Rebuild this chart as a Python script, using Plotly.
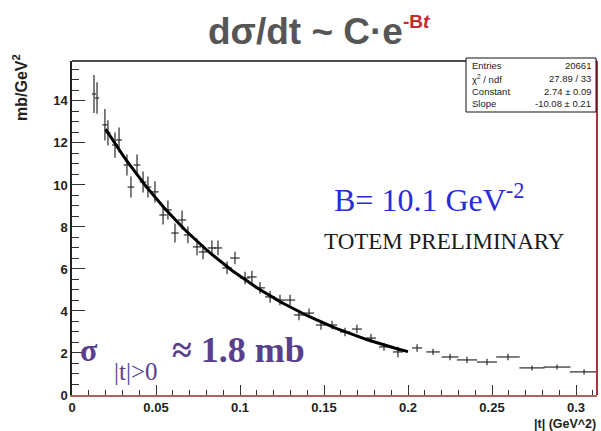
import numpy as np
import plotly.graph_objects as go

# ---- data ----
t_vals = [0.0131, 0.0149, 0.0196, 0.0214, 0.0256, 0.0280, 0.0327, 0.0351, 0.0387, 0.0423,
          0.0452, 0.0494, 0.0542, 0.0571, 0.0613, 0.0655, 0.0690, 0.0744, 0.0780, 0.0833,
          0.0869, 0.0923, 0.0970, 0.1030, 0.1071, 0.1119, 0.1179, 0.1238, 0.1298, 0.1351,
          0.1411, 0.1482, 0.1548, 0.1625, 0.1696, 0.1780, 0.1857, 0.1940, 0.2054, 0.2149,
          0.2250, 0.2351, 0.2470, 0.2595, 0.2738, 0.2887, 0.3048]
dsdt_vals = [14.33, 14.14, 12.86, 12.48, 11.90, 12.14, 10.95, 9.90, 10.95, 10.14,
             9.90, 9.67, 8.57, 8.81, 7.71, 8.33, 7.62, 7.05, 6.81, 7.00,
             7.00, 6.05, 6.52, 5.57, 5.62, 5.10, 4.67, 4.52, 4.52, 3.81,
             3.90, 3.33, 3.33, 3.00, 3.14, 2.71, 2.29, 2.05, 2.24, 2.05,
             1.81, 1.67, 1.57, 1.81, 1.29, 1.33, 1.10]
t_err = [0.0012, 0.0012, 0.0015, 0.0015, 0.0018, 0.0018, 0.002, 0.002, 0.002, 0.002,
         0.002, 0.0022, 0.0022, 0.0022, 0.0022, 0.0025, 0.0025, 0.0025, 0.0025, 0.0025,
         0.0025, 0.0028, 0.0028, 0.0028, 0.0028, 0.003, 0.003, 0.003, 0.003, 0.003,
         0.003, 0.003, 0.003, 0.003, 0.003, 0.003, 0.003, 0.003, 0.003, 0.004,
         0.005, 0.006, 0.006, 0.007, 0.0075, 0.008, 0.0085]
dsdt_err = [0.9, 0.75, 0.75, 0.6, 0.6, 0.6, 0.5, 0.5, 0.5, 0.5,
            0.5, 0.5, 0.45, 0.45, 0.45, 0.45, 0.4, 0.4, 0.35, 0.35,
            0.35, 0.3, 0.3, 0.3, 0.3, 0.28, 0.28, 0.25, 0.25, 0.25,
            0.22, 0.22, 0.2, 0.2, 0.2, 0.2, 0.18, 0.25, 0.18, 0.15,
            0.15, 0.15, 0.15, 0.15, 0.12, 0.12, 0.12]

x_tick_vals = [0, 0.05, 0.1, 0.15, 0.2, 0.25, 0.3]
x_tick_text = ["0", "0.05", "0.1", "0.15", "0.2", "0.25", "0.3"]
y_tick_vals = [0, 2, 4, 6, 8, 10, 12, 14]
y_tick_text = ["0", "2", "4", "6", "8", "10", "12", "14"]

# fit results (stats box)
entries = 20661
chi2, ndf = 27.89, 33
fit_const, fit_const_err = 2.74, 0.09
fit_slope, fit_slope_err = -10.08, 0.21
fit_range = (0.02, 0.2)

# ---- layout geometry ----
W, H = 601, 431
L, R, T, B = 72, 4, 61, 36
PW, PH = W - L - R, H - T - B


def px(x, y):
    return (x - L) / PW, (H - B - y) / PH


fig = go.Figure()

fig.add_trace(go.Scatter(
    x=t_vals, y=dsdt_vals, mode="markers",
    marker=dict(size=1, color="rgba(0,0,0,0)"),
    error_x=dict(type="data", array=t_err, color="#2a2a2a", thickness=1.2, width=0),
    error_y=dict(type="data", array=dsdt_err, color="#2a2a2a", thickness=1.2, width=0),
    showlegend=False, hoverinfo="skip"))

tf = np.linspace(fit_range[0], fit_range[1], 120)
fig.add_trace(go.Scatter(
    x=tf, y=np.exp(fit_const + fit_slope * tf), mode="lines",
    line=dict(color="black", width=3), showlegend=False, hoverinfo="skip"))

tickfont = dict(family="Liberation Sans", size=13, color="#222222", weight="bold")

fig.update_xaxes(
    range=[0, 0.3125], tickvals=x_tick_vals, ticktext=x_tick_text,
    ticks="inside", ticklen=10, tickcolor="#333333", tickwidth=1.2,
    minor=dict(dtick=0.01, ticks="inside", ticklen=5, tickcolor="#333333", tickwidth=1),
    showline=True, linecolor="#b0605f", linewidth=1.5,
    showgrid=False, zeroline=False, tickfont=tickfont)
fig.update_yaxes(
    range=[0, 15.9], tickvals=y_tick_vals, ticktext=y_tick_text,
    ticks="inside", ticklen=13, tickcolor="#333333", tickwidth=1.2,
    minor=dict(dtick=0.5, ticks="inside", ticklen=7, tickcolor="#333333", tickwidth=1),
    showline=True, linecolor="#222222", linewidth=1.5,
    showgrid=False, zeroline=False, tickfont=tickfont)

shapes = []
x0, y0 = px(L, T)
x1, y1 = px(597, H - B)
shapes.append(dict(type="line", xref="paper", yref="paper", x0=x0, y0=y0, x1=x1, y1=y0,
                   line=dict(color="#111111", width=1.5)))
shapes.append(dict(type="line", xref="paper", yref="paper", x0=x1, y0=y0, x1=x1, y1=y1,
                   line=dict(color="#b03040", width=2)))
bx0, by0 = px(466, 58)
bx1, by1 = px(596, 112)
shapes.append(dict(type="rect", xref="paper", yref="paper", x0=bx0, y0=by0, x1=bx1, y1=by1,
                   fillcolor="white", line=dict(color="#111111", width=1)))

ann = []


def add(text, x, y, xanchor="center", yanchor="middle", **font):
    ax, ay = px(x, y)
    ann.append(dict(text=text, x=ax, y=ay, xref="paper", yref="paper", showarrow=False,
                    xanchor=xanchor, yanchor=yanchor, font=font))


# title
add("dσ/dt ~ C·e<sup><span style='color:#c8282e;font-size:19px'>-B<i>t</i></span></sup>",
    206, 31, xanchor="left", family="Liberation Sans", size=37, color="#565656",
    weight="bold")

# axis titles
ax_, ay_ = px(20, 88)
ann.append(dict(text="mb/GeV<sup>2</sup>", x=ax_, y=ay_, xref="paper", yref="paper",
                showarrow=False, textangle=-90, xanchor="center", yanchor="middle",
                font=dict(family="Liberation Sans", size=16, color="#222222", weight="bold")))
add("|t| (GeV^2)", 598, 424, xanchor="right", family="Liberation Sans", size=12.5,
    color="#222222", weight="bold")

# stats box
rows = [("Entries", f"{entries}"),
        ("χ<sup>2</sup> / ndf", f"{chi2:.2f} / {ndf}"),
        ("Constant", f"{fit_const:.2f} ± {fit_const_err:.2f}"),
        ("Slope", f"{fit_slope:.2f} ± {fit_slope_err:.2f}")]
for i, (k, v) in enumerate(rows):
    yy = 66 + i * 12.5
    add(k, 470, yy, xanchor="left", family="Liberation Sans", size=9.5, color="#222222")
    add(v, 593, yy, xanchor="right", family="Liberation Sans", size=9.5, color="#222222")

# labels
add("B= 10.1 GeV<sup>-2</sup>", 332, 198, xanchor="left", family="Liberation Serif",
    size=32, color="#2b2bd6")
add("TOTEM PRELIMINARY", 322, 241, xanchor="left", family="Liberation Serif",
    size=23, color="#1a1a1a")
add("σ", 89, 350, family="Liberation Serif", size=32, color="#5a3f8e", weight="bold")
add("|t|>0", 136, 371, family="Liberation Serif", size=25, color="#5a3f8e")
add("≈ 1.8 mb", 170, 350, xanchor="left", family="Liberation Serif", size=36,
    color="#5a3f8e", weight="bold")

fig.update_layout(
    width=W, height=H, margin=dict(l=L, r=R, t=T, b=B),
    paper_bgcolor="white", plot_bgcolor="white",
    shapes=shapes, annotations=ann, showlegend=False)

fig.write_html("out.html")
